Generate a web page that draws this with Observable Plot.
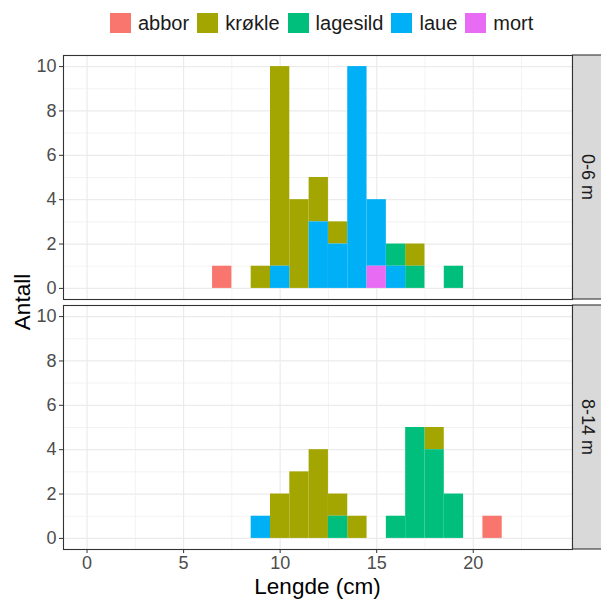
<!DOCTYPE html>
<html><head><meta charset="utf-8">
<script src="https://cdn.jsdelivr.net/npm/d3@7"></script>
<script src="https://cdn.jsdelivr.net/npm/@observablehq/plot@0.6"></script>
<style>
body{margin:0;background:#fff;font-family:"Liberation Sans",Arial,sans-serif;}
#legend{height:45px;display:flex;align-items:center;padding-left:110px;box-sizing:border-box;width:601px;}
.key{width:21px;height:20px;margin-right:7px;flex:none;}
.lab{font-size:20px;color:#1A1A1A;margin-right:8px;line-height:20px;}
#chart svg{display:block;}
</style></head><body>
<div id="legend"></div><div id="chart"></div>
<script>
// ---- data ----
const species = ["abbor", "krøkle", "lagesild", "laue", "mort"];
const speciesColors = ["#F8766D", "#A3A500", "#00BF7D", "#00B0F6", "#E76BF3"];
const depths = ["0-6 m", "8-14 m"];
const binCentres = [7, 8, 9, 10, 11, 12, 13, 14, 15, 16, 17, 18, 19, 20, 21];
// 0-6 m
const abbor_0_6    = [1, 0, 0, 0, 0, 0, 0, 0, 0, 0, 0, 0, 0, 0, 0];
const krokle_0_6   = [0, 0, 1, 9, 4, 2, 1, 0, 0, 0, 1, 0, 0, 0, 0];
const lagesild_0_6 = [0, 0, 0, 0, 0, 0, 0, 0, 0, 1, 1, 0, 1, 0, 0];
const laue_0_6     = [0, 0, 0, 1, 0, 3, 2, 10, 3, 1, 0, 0, 0, 0, 0];
const mort_0_6     = [0, 0, 0, 0, 0, 0, 0, 0, 1, 0, 0, 0, 0, 0, 0];
// 8-14 m
const abbor_8_14    = [0, 0, 0, 0, 0, 0, 0, 0, 0, 0, 0, 0, 0, 0, 1];
const krokle_8_14   = [0, 0, 0, 2, 3, 4, 1, 1, 0, 0, 0, 1, 0, 0, 0];
const lagesild_8_14 = [0, 0, 0, 0, 0, 0, 1, 0, 0, 1, 5, 4, 2, 0, 0];
const laue_8_14     = [0, 0, 1, 0, 0, 0, 0, 0, 0, 0, 0, 0, 0, 0, 0];
const mort_8_14     = [0, 0, 0, 0, 0, 0, 0, 0, 0, 0, 0, 0, 0, 0, 0];
const xTicks = [0, 5, 10, 15, 20];
const xMinor = [2.5, 7.5, 12.5, 17.5, 22.5];
const yTicks = [0, 2, 4, 6, 8, 10];
const yMinor = [1, 3, 5, 7, 9];
const stackOrder = ["mort", "laue", "lagesild", "krøkle", "abbor"];

const table = [];
const series = [
  [depths[0], [abbor_0_6, krokle_0_6, lagesild_0_6, laue_0_6, mort_0_6]],
  [depths[1], [abbor_8_14, krokle_8_14, lagesild_8_14, laue_8_14, mort_8_14]]
];
for (const [depth, arrs] of series) {
  arrs.forEach((arr, i) => arr.forEach((c, j) => {
    if (c > 0) table.push({depth, species: species[i], len: binCentres[j], count: c});
  }));
}

// ---- legend ----
const leg = document.getElementById("legend");
species.forEach((s, i) => {
  const k = document.createElement("div"); k.className = "key"; k.style.background = speciesColors[i];
  const t = document.createElement("div"); t.className = "lab"; t.textContent = s;
  leg.appendChild(k); leg.appendChild(t);
});

// ---- plot ----
const W = 601, H = 554;
const plot = Plot.plot({
  width: W, height: H,
  marginLeft: 63, marginRight: 29, marginTop: 10, marginBottom: 50,
  style: {fontFamily: '"Liberation Sans", Arial, sans-serif', background: "#fff"},
  x: {domain: [-1.22, 25.14]},
  y: {domain: [-0.5, 10.5]},
  fy: {domain: depths, paddingInner: 6 / 250, paddingOuter: 0, axis: null},
  color: {domain: species, range: speciesColors},
  marks: [
    Plot.ruleX(xMinor, {stroke: "#EBEBEB", strokeWidth: 0.6}),
    Plot.ruleY(yMinor, {stroke: "#EBEBEB", strokeWidth: 0.6}),
    Plot.ruleX(xTicks, {stroke: "#EBEBEB", strokeWidth: 1.2}),
    Plot.ruleY(yTicks, {stroke: "#EBEBEB", strokeWidth: 1.2}),
    Plot.rectY(table, {
      x1: d => d.len - 0.5, x2: d => d.len + 0.5, y: "count",
      fill: "species", fy: "depth", order: stackOrder
    }),
    Plot.frame({stroke: "#333333", strokeWidth: 1.1}),
    Plot.axisX({ticks: xTicks, tickSize: 4, tickPadding: 3, stroke: "#333333", fill: "#4D4D4D", fontSize: 18, label: null}),
    Plot.axisY({ticks: yTicks, tickSize: 4, tickPadding: 3, stroke: "#333333", fill: "#4D4D4D", fontSize: 18, label: null})
  ]
});
document.getElementById("chart").appendChild(plot);

// strips and axis titles
const svg = d3.select(plot);
const fy = plot.scale("fy");
const xr = plot.scale("x").range;
depths.forEach(d => {
  const y0 = fy.apply(d), bw = fy.bandwidth;
  svg.append("rect").attr("x", xr[1] + 0.5).attr("y", y0).attr("width", 40).attr("height", bw)
    .attr("fill", "#D9D9D9").attr("stroke", "#333333").attr("stroke-width", 1.1);
  svg.append("text").attr("transform", `translate(${xr[1] + 16},${y0 + bw / 2}) rotate(90)`)
    .attr("text-anchor", "middle").attr("dy", "0.35em").attr("fill", "#1A1A1A")
    .attr("font-size", 18).text(d);
});
svg.append("text").attr("x", (xr[0] + xr[1]) / 2).attr("y", H - 5)
  .attr("text-anchor", "middle").attr("font-size", 22.5).attr("fill", "#000").text("Lengde (cm)");
svg.append("text").attr("transform", `translate(22,${(10 + H - 50) / 2}) rotate(-90)`)
  .attr("text-anchor", "middle").attr("dy", "0.35em").attr("font-size", 22.5).attr("fill", "#000").text("Antall");
</script></body></html>
